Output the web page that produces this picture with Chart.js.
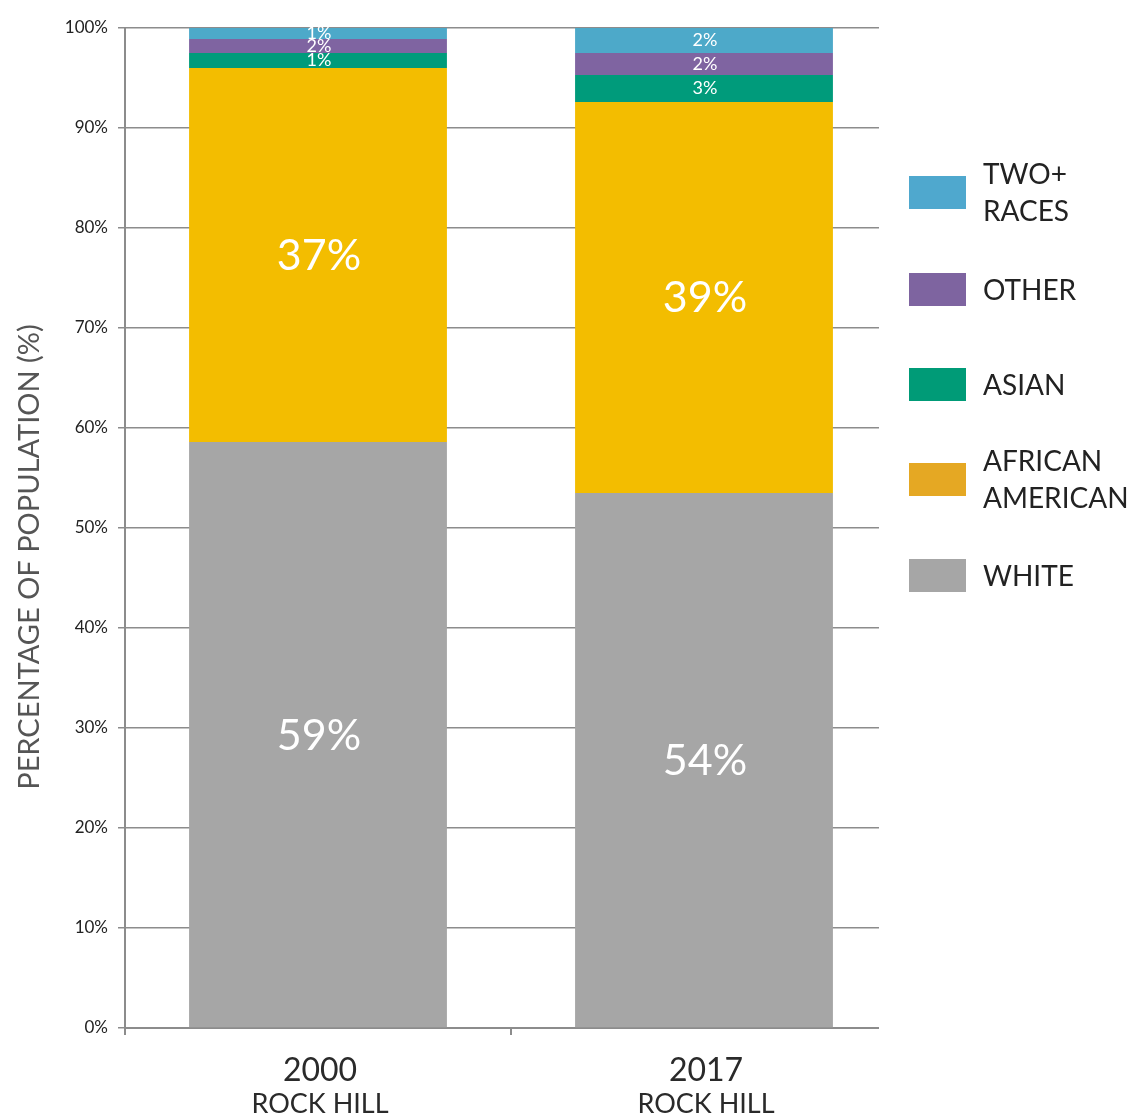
<!DOCTYPE html>
<html>
<head>
<meta charset="utf-8">
<script src="https://cdn.jsdelivr.net/npm/chart.js@4.4.1/dist/chart.umd.min.js"></script>
<style>
  html, body { margin: 0; padding: 0; background: #fff; }
  #wrap { width: 1131px; height: 1113px; position: relative; }
</style>
</head>
<body>
<div id="wrap"><canvas id="c" width="1131" height="1113"></canvas></div>
<script>
const categories = ['2000', '2017'];
const subLabels = ['ROCK HILL', 'ROCK HILL'];
const white = [58.6, 53.5];
const africanAmerican = [37.4, 39.1];
const asian = [1.5, 2.7];
const other = [1.4, 2.2];
const twoPlus = [1.1, 2.5];
const whiteLabels = ['59%', '54%'];
const africanAmericanLabels = ['37%', '39%'];
const asianLabels = ['1%', '3%'];
const otherLabels = ['2%', '2%'];
const twoPlusLabels = ['1%', '2%'];
const yTicks = [0, 10, 20, 30, 40, 50, 60, 70, 80, 90, 100];
const seriesNames = ['WHITE', 'AFRICAN AMERICAN', 'ASIAN', 'OTHER', 'TWO+ RACES'];
const legendLines = [['TWO+', 'RACES'], ['OTHER'], ['ASIAN'], ['AFRICAN', 'AMERICAN'], ['WHITE']];
const yTitle = 'PERCENTAGE OF POPULATION (%)';

const barColors = ['#A6A6A6', '#F3BD00', '#009B7B', '#7F64A1', '#4DA9C9'];
const legendColors = ['#4FA8CE', '#7E64A0', '#009B77', '#E5A823', '#A6A6A6'];
const FONT = 'Lato, "DejaVu Sans", sans-serif';

const labelSets = [whiteLabels, africanAmericanLabels, asianLabels, otherLabels, twoPlusLabels];
const bigSeries = [true, true, false, false, false];

const decor = {
  id: 'decor',
  beforeDatasetsDraw(chart) {
    const ctx = chart.ctx, a = chart.chartArea;
    ctx.save();
    ctx.fillStyle = '#ffffff';
    ctx.fillRect(879, a.top - 4, a.right - 879 + 6, a.bottom - a.top + 16);
    ctx.restore();
  },
  afterDatasetsDraw(chart) {
    const ctx = chart.ctx;
    ctx.save();
    ctx.fillStyle = '#ffffff';
    ctx.textAlign = 'center';
    ctx.textBaseline = 'middle';
    chart.data.datasets.forEach((ds, di) => {
      const meta = chart.getDatasetMeta(di);
      meta.data.forEach((bar, i) => {
        const txt = labelSets[di][i];
        const p = bar.getProps(['x', 'y', 'base'], true);
        const cy = (p.y + p.base) / 2;
        ctx.font = bigSeries[di] ? '43px ' + FONT : '18px ' + FONT;
        ctx.fillText(txt, p.x + 1, cy + (bigSeries[di] ? 1 : 0));
      });
    });
    ctx.restore();
  },
  afterDraw(chart) {
    const ctx = chart.ctx, a = chart.chartArea;
    const xs = chart.scales.x;
    ctx.save();
    // x category labels
    ctx.fillStyle = '#2a2a2a';
    ctx.textAlign = 'center';
    ctx.textBaseline = 'alphabetic';
    categories.forEach((c, i) => {
      const x = xs.getPixelForValue(i) + 2;
      ctx.font = '32px ' + FONT;
      ctx.fillText(c, x, 1081);
      ctx.font = '27px ' + FONT;
      ctx.fillText(subLabels[i], x, 1113);
    });
    // y title
    ctx.save();
    ctx.translate(30, 557);
    ctx.rotate(-Math.PI / 2);
    ctx.font = '29px ' + FONT;
    ctx.fillStyle = '#555555';
    ctx.textAlign = 'center';
    ctx.textBaseline = 'middle';
    ctx.fillText(yTitle, 0, 0);
    ctx.restore();
    // legend
    const boxX = 909, boxW = 57, boxH = 33;
    const boxTops = [176, 273, 368, 463, 559];
    ctx.font = '28px ' + FONT;
    ctx.textAlign = 'left';
    ctx.textBaseline = 'middle';
    legendLines.forEach((lines, i) => {
      ctx.fillStyle = legendColors[i];
      ctx.fillRect(boxX, boxTops[i], boxW, boxH);
      ctx.fillStyle = '#222222';
      const cy = boxTops[i] + boxH / 2;
      const lh = 37;
      const start = cy - (lines.length - 1) * lh / 2 + 1;
      lines.forEach((t, k) => ctx.fillText(t, 983, start + k * lh));
    });
    ctx.restore();
  }
};

const datasetsValues = [white, africanAmerican, asian, other, twoPlus];

new Chart(document.getElementById('c'), {
  type: 'bar',
  data: {
    labels: categories,
    datasets: datasetsValues.map((vals, i) => ({
      label: seriesNames[i],
      data: vals,
      backgroundColor: barColors[i],
      borderWidth: 0,
      barPercentage: 0.668,
      categoryPercentage: 1.0
    }))
  },
  options: {
    responsive: false,
    animation: false,
    devicePixelRatio: 1,
    layout: { padding: { top: 28, right: 234, left: 0, bottom: 0 } },
    plugins: { legend: { display: false }, tooltip: { enabled: false } },
    scales: {
      x: {
        stacked: true,
        grid: { display: true, drawOnChartArea: false, drawTicks: true, tickLength: 7, color: '#8c8c8c', lineWidth: 2, offset: true },
        border: { display: true, color: '#8c8c8c', width: 2 },
        ticks: { display: false },
        afterFit(s) { s.height = 85; }
      },
      y: {
        stacked: true,
        min: 0,
        max: 100,
        afterBuildTicks(s) { s.ticks = yTicks.map(v => ({ value: v })); },
        grid: { color: '#8c8c8c', lineWidth: 1.5, tickLength: 7 },
        border: { display: true, color: '#8c8c8c', width: 2 },
        ticks: {
          color: '#222222',
          font: { family: FONT, size: 17 },
          padding: 10,
          callback: v => v + '%'
        },
        afterFit(s) { s.width = 125; }
      }
    }
  },
  plugins: [decor]
});
</script>
</body>
</html>
